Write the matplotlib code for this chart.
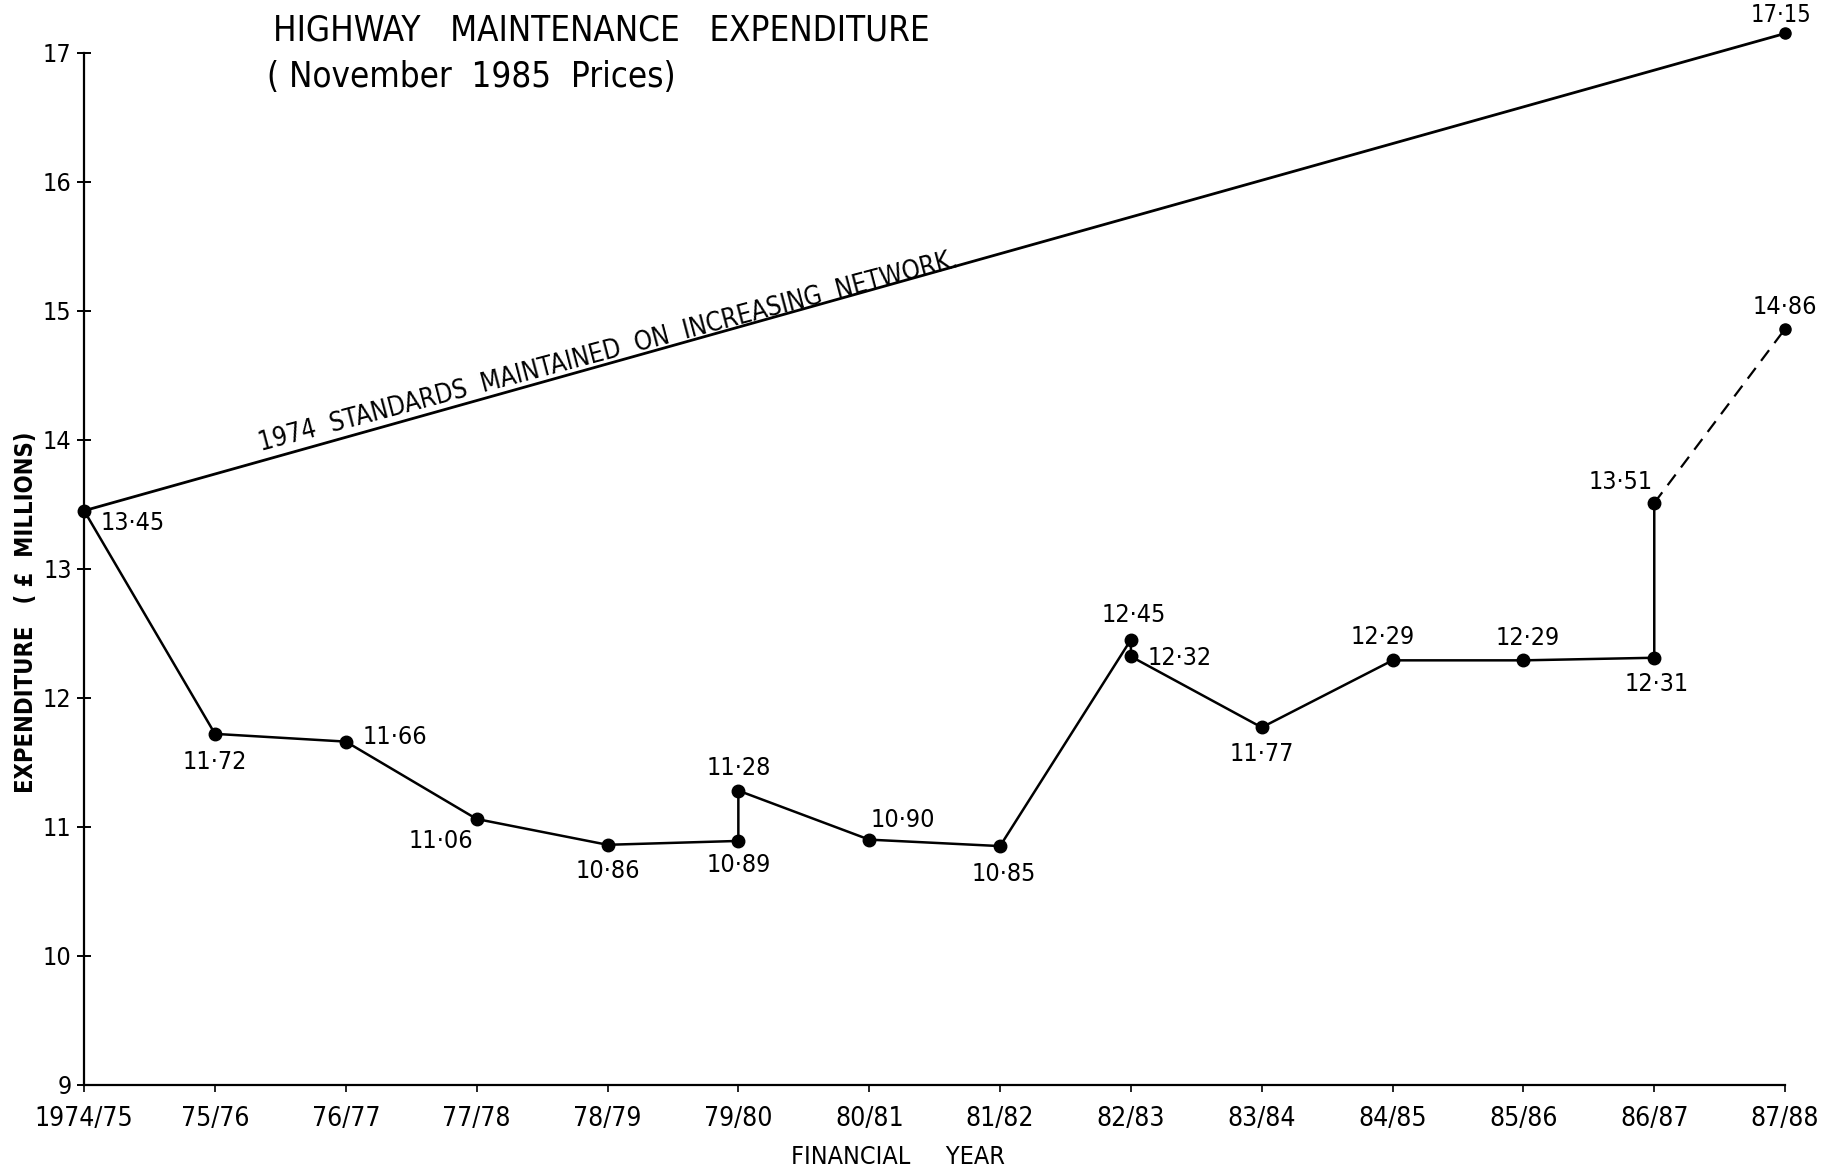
import matplotlib
matplotlib.use('Agg')
import matplotlib.pyplot as plt

plt.rcParams['font.family'] = ['DejaVu Sans']
plt.rcParams['font.stretch'] = 'condensed'

years = ['1974/75', '75/76', '76/77', '77/78', '78/79', '79/80', '80/81',
         '81/82', '82/83', '83/84', '84/85', '85/86', '86/87', '87/88']

# actual spend, in the order it was drawn (79/80, 82/83, 86/87 have two values)
actual_x = [0, 1, 2, 3, 4, 5, 5, 6, 7, 8, 8, 9, 10, 11, 12, 12]
actual_y = [13.45, 11.72, 11.66, 11.06, 10.86, 10.89, 11.28, 10.90, 10.85,
            12.45, 12.32, 11.77, 12.29, 12.29, 12.31, 13.51]
actual_lbl = ['13·45', '11·72', '11·66', '11·06', '10·86', '10·89', '11·28',
              '10·90', '10·85', '12·45', '12·32', '11·77', '12·29', '12·29',
              '12·31', '13·51']

# forecast for 87/88 (dashed)
proj_x = [12, 13]
proj_y = [13.51, 14.86]

# 1974 standards maintained on increasing network
std_x = [0, 13]
std_y = [13.45, 17.15]

fig = plt.figure(figsize=(18.29, 11.68), dpi=100)
ax = fig.add_axes([0.046, 0.0713, 0.930, 0.8835])

ax.plot(std_x, std_y, color='black', lw=2.0, marker='o', ms=8, clip_on=False)
ax.plot(proj_x, proj_y, color='black', lw=1.6, ls=(0, (6, 4)), clip_on=False)
ax.plot(proj_x[1:], proj_y[1:], 'o', color='black', ms=8, clip_on=False)
ax.plot(actual_x, actual_y, color='black', lw=1.8, marker='o', ms=9, clip_on=False)

# label offsets in points
offsets = [(12, -9, 'left'), (0, -20, 'center'), (12, 3, 'left'), (-26, -16, 'center'),
           (0, -19, 'center'), (0, -17, 'center'), (0, 16, 'center'), (24, 14, 'center'),
           (3, -20, 'center'), (2, 18, 'center'), (12, -1, 'left'), (0, -19, 'center'),
           (-7, 17, 'center'), (3, 16, 'center'), (2, -19, 'center'), (-24, 15, 'center')]
for x, y, s, (dx, dy, ha) in zip(actual_x, actual_y, actual_lbl, offsets):
    ax.annotate(s, (x, y), xytext=(dx, dy), textcoords='offset points',
                ha=ha, va='center', fontsize=18)
ax.annotate('14·86', (proj_x[1], proj_y[1]), xytext=(0, 16), textcoords='offset points',
            ha='center', va='center', fontsize=18, annotation_clip=False)
ax.annotate('17·15', (std_x[1], std_y[1]), xytext=(-3, 5), textcoords='offset points',
            ha='center', va='bottom', fontsize=17, annotation_clip=False)

# text along the standards line
slope = (std_y[1] - std_y[0]) / (std_x[1] - std_x[0])
ax.text(1.36, std_y[0] + slope * 1.36 + 0.03,
        '1974  STANDARDS  MAINTAINED  ON  INCREASING  NETWORK.',
        rotation=15.0, rotation_mode='anchor', transform_rotates_text=True,
        ha='left', va='bottom', fontsize=18.5)

ax.set_xlim(0, 13)
ax.set_ylim(9, 17)
ax.set_xticks(range(len(years)))
ax.set_xticklabels(years, fontsize=19)
ax.set_yticks(range(9, 18))
ax.tick_params(axis='y', direction='inout', length=10, width=1.4, labelsize=18, pad=4)
ax.tick_params(axis='x', direction='out', length=5, width=1.2, pad=10)
for side in ['top', 'right']:
    ax.spines[side].set_visible(False)
for side in ['left', 'bottom']:
    ax.spines[side].set_linewidth(1.6)

fig.text(0.149, 0.974, 'HIGHWAY   MAINTENANCE   EXPENDITURE', fontsize=25,
         ha='left', va='center')
fig.text(0.146, 0.934, '( November  1985  Prices)', fontsize=25,
         ha='left', va='center')
fig.text(0.014, 0.476, 'EXPENDITURE   ( £  MILLIONS)', rotation=90, fontsize=17,
         fontweight='bold', ha='center', va='center')
fig.text(0.491, 0.009, 'FINANCIAL     YEAR', fontsize=18, ha='center', va='center')

fig.savefig('out.png', dpi=100, facecolor='white')
